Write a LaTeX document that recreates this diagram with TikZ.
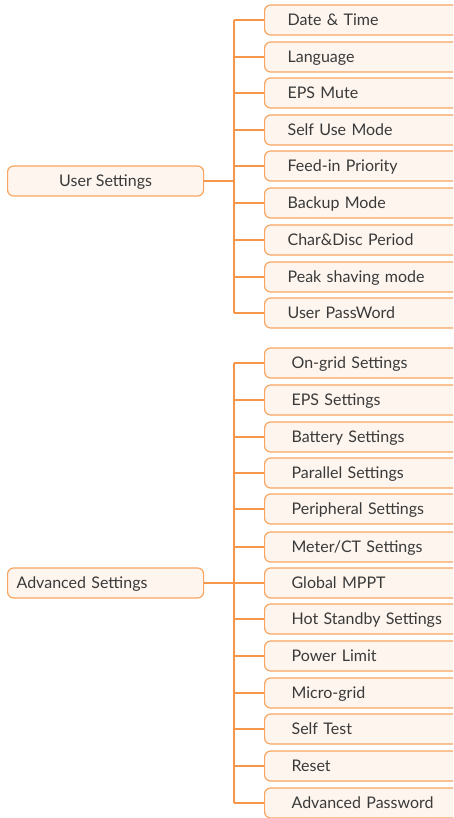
\documentclass[tikz,border=0pt]{standalone}
\usepackage{fontspec}
\setmainfont{Lato}
\definecolor{edge}{HTML}{F7A560}
\definecolor{linec}{HTML}{F5964A}
\definecolor{boxfill}{HTML}{FDF5EE}
\definecolor{txt}{HTML}{3A3A3A}
\begin{document}
\begin{tikzpicture}[x=1pt,y=-1pt,
  box/.style={draw=edge, fill=boxfill, line width=1.2pt, rounded corners=6pt,
    minimum height=30pt, text=txt, font=\fontsize{16}{18}\selectfont, anchor=west,
    text height=12.5pt, text depth=1pt},
  child/.style={box, align=left, inner xsep=23pt, text width=160pt},
  achild/.style={box, align=left, inner xsep=27pt, text width=156pt},
  conn/.style={draw=linec, line width=1.2pt}]
\useasboundingbox (0,0) rectangle (453,818);
\clip (0,0) rectangle (453,818);
% top-level
\node[box, minimum width=196pt] (us) at (7,181) {User Settings};
\node[box, minimum width=196pt, text width=178pt, inner xsep=9pt, align=left] (as) at (7,583) {Advanced Settings};
\coordinate (ut) at (234,181);
\coordinate (at) at (234,583);
% user children
\node[child] (u1) at (264,20) {Date \& Time};
\node[child] (u2) at (264,57) {Language};
\node[child] (u3) at (264,93) {EPS Mute};
\node[child] (u4) at (264,130) {Self Use Mode};
\node[child] (u5) at (264,166) {Feed-in Priority};
\node[child] (u6) at (264,203) {Backup Mode};
\node[child] (u7) at (264,240) {Char\&Disc Period};
\node[child] (u8) at (264,277) {Peak shaving mode};
\node[child] (u9) at (264,313) {User PassWord};
% advanced children
\node[achild] (a1) at (264,363) {On-grid Settings};
\node[achild] (a2) at (264,400) {EPS Settings};
\node[achild] (a3) at (264,437) {Battery Settings};
\node[achild] (a4) at (264,473) {Parallel Settings};
\node[achild] (a5) at (264,509) {Peripheral Settings};
\node[achild] (a6) at (264,547) {Meter/CT Settings};
\node[achild] (a7) at (264,583) {Global MPPT};
\node[achild] (a8) at (264,619) {Hot Standby Settings};
\node[achild] (a9) at (264,656) {Power Limit};
\node[achild] (a10) at (264,693) {Micro-grid};
\node[achild] (a11) at (264,729) {Self Test};
\node[achild] (a12) at (264,766) {Reset};
\node[achild] (a13) at (264,803) {Advanced Password};
% connectors
\draw[conn] (us.east) -- (ut);
\draw[conn] (ut |- u1.west) -- (ut |- u9.west);
\foreach \n in {u1,u2,u3,u4,u5,u6,u7,u8,u9}{\draw[conn] (ut |- \n.west) -- (\n.west);}
\draw[conn] (as.east) -- (at);
\draw[conn] (at |- a1.west) -- (at |- a13.west);
\foreach \n in {a1,a2,a3,a4,a5,a6,a7,a8,a9,a10,a11,a12,a13}{\draw[conn] (at |- \n.west) -- (\n.west);}
\end{tikzpicture}
\end{document}
